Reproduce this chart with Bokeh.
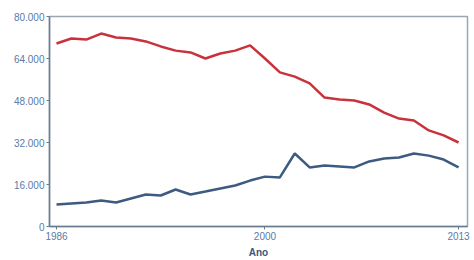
from bokeh.plotting import figure
from bokeh.models import FixedTicker, Range1d
from bokeh.embed import file_html
from bokeh.resources import INLINE

years = list(range(1986, 2014))
red_values = [69700, 71600, 71200, 73500, 72000, 71600, 70500, 68600, 67000, 66300,
              64000, 65900, 67000, 69000, 64000, 58700, 57100, 54500, 49100, 48400,
              48000, 46500, 43400, 41100, 40400, 36600, 34700, 32000]
blue_values = [8380, 8760, 9140, 9900, 9140, 10670, 12190, 11800, 14100, 12190,
               13300, 14480, 15600, 17500, 19000, 18700, 27800, 22500, 23200, 22900,
               22500, 24800, 25900, 26300, 27800, 27000, 25500, 22500]
y_ticks = [0, 16000, 32000, 48000, 64000, 80000]
y_tick_labels = ["0", "16.000", "32.000", "48.000", "64.000", "80.000"]
x_ticks = [1986, 2000, 2013]
x_label = "Ano"

p = figure(width=474, height=260, output_backend="svg", toolbar_location=None,
           x_range=Range1d(1985.53, 2013.6), y_range=Range1d(0, 80000),
           min_border_left=49, min_border_right=7, min_border_top=16, min_border_bottom=34)

p.line(years, red_values, line_color="#c8323c", line_width=2.5)
p.line(years, blue_values, line_color="#3d5a80", line_width=2.5)

p.grid.visible = False
p.outline_line_color = "#9aa6b2"
p.outline_line_width = 1.5

lab_col = "#5b7ba6"
p.yaxis.ticker = FixedTicker(ticks=y_ticks)
p.yaxis.major_label_overrides = {t: l for t, l in zip(y_ticks, y_tick_labels)}
p.xaxis.ticker = FixedTicker(ticks=x_ticks)
for ax in (p.xaxis, p.yaxis):
    ax.axis_line_color = "#6a7d90"
    ax.axis_line_width = 1.5
    ax.major_tick_line_color = "#6a7d90"
    ax.major_tick_out = 3
    ax.major_tick_in = 0
    ax.minor_tick_line_color = None
    ax.major_label_text_color = lab_col
    ax.major_label_text_font = "Liberation Sans"
    ax.major_label_text_font_size = "10px"
p.yaxis.major_label_standoff = 2
p.xaxis.major_label_standoff = 2
p.xaxis.axis_label = x_label
p.xaxis.axis_label_text_font = "Liberation Sans"
p.xaxis.axis_label_text_font_style = "bold"
p.xaxis.axis_label_text_font_size = "10px"
p.xaxis.axis_label_text_color = "#3a5680"
p.xaxis.axis_label_standoff = 4

open("out.html", "w").write(file_html(p, INLINE))
